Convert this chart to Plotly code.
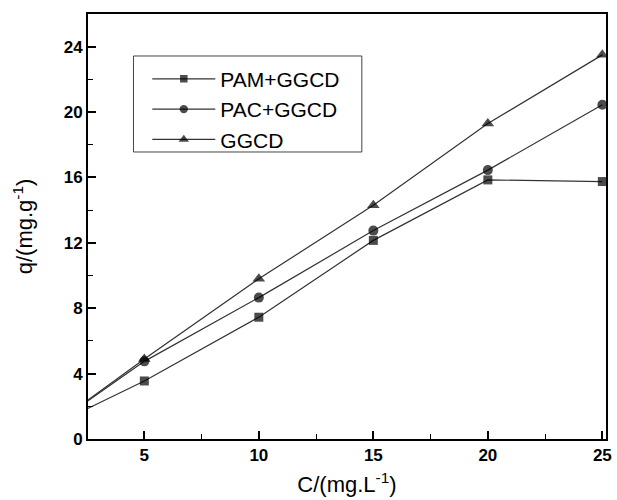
import plotly.graph_objects as go

conc = [2.5, 5, 10, 15, 20, 25]
series_names = ["PAM+GGCD", "PAC+GGCD", "GGCD"]
pam_ggcd = [1.85, 3.55, 7.45, 12.15, 15.85, 15.75]
pac_ggcd = [2.3, 4.75, 8.65, 12.75, 16.45, 20.45]
ggcd = [2.35, 4.9, 9.8, 14.3, 19.3, 23.5]
symbols = ["square", "circle", "triangle-up"]
marker_sizes = [9, 10, 11]

x_ticks = [5, 10, 15, 20, 25]
y_ticks = [0, 4, 8, 12, 16, 20, 24]

font_family = "Arial, Liberation Sans, sans-serif"

fig = go.Figure()
for name, vals, sym, ms in zip(series_names, [pam_ggcd, pac_ggcd, ggcd], symbols, marker_sizes):
    fig.add_trace(go.Scatter(
        x=conc, y=vals, name=name, mode="lines+markers",
        line=dict(color="#333333", width=1.2),
        marker=dict(symbol=sym, color="#000000", size=[0] + [ms] * (len(conc) - 1),
                    line=dict(width=0)),
        cliponaxis=True,
    ))

axis_common = dict(
    showline=True, linecolor="black", linewidth=2, mirror=True,
    ticks="inside", ticklen=8, tickwidth=1.5, tickcolor="black",
    showgrid=False, zeroline=False,
    tickfont=dict(family=font_family, size=17, color="black"),
)

fig.update_xaxes(
    range=[2.54, 25.16], tickvals=x_ticks, ticktext=[f"<b>{v}</b>" for v in x_ticks],
    minor=dict(ticks="inside", ticklen=5, tickwidth=1.2, tickcolor="black", dtick=2.5, tick0=0),
    title=dict(text="C/(mg.L<sup>-1</sup>)", font=dict(family=font_family, size=22, color="black"), standoff=12),
    **axis_common,
)
fig.update_yaxes(
    range=[0, 26.0], tickvals=y_ticks, ticktext=[f"<b>{v}</b>" for v in y_ticks],
    minor=dict(ticks="inside", ticklen=5, tickwidth=1.2, tickcolor="black", dtick=2, tick0=0),
    title=dict(text="q/(mg.g<sup>-1</sup>)", font=dict(family=font_family, size=22, color="black"), standoff=25),
    **axis_common,
)

# legend frame (decoration)
fig.add_shape(type="rect", xref="paper", yref="paper",
              x0=0.0878, x1=0.5286, y0=0.6753, y1=0.9012,
              line=dict(color="#444444", width=1), fillcolor="rgba(0,0,0,0)")

fig.update_layout(
    width=617, height=500,
    margin=dict(l=88, r=5, t=14, b=61),
    paper_bgcolor="white", plot_bgcolor="white",
    showlegend=True,
    legend=dict(
        x=0.1145, y=0.895, xanchor="left", yanchor="top",
        borderwidth=0, bgcolor="rgba(0,0,0,0)",
        font=dict(family=font_family, size=21, color="black"),
        itemwidth=63, tracegroupgap=0,
    ),
)

fig.write_html("out.html")
